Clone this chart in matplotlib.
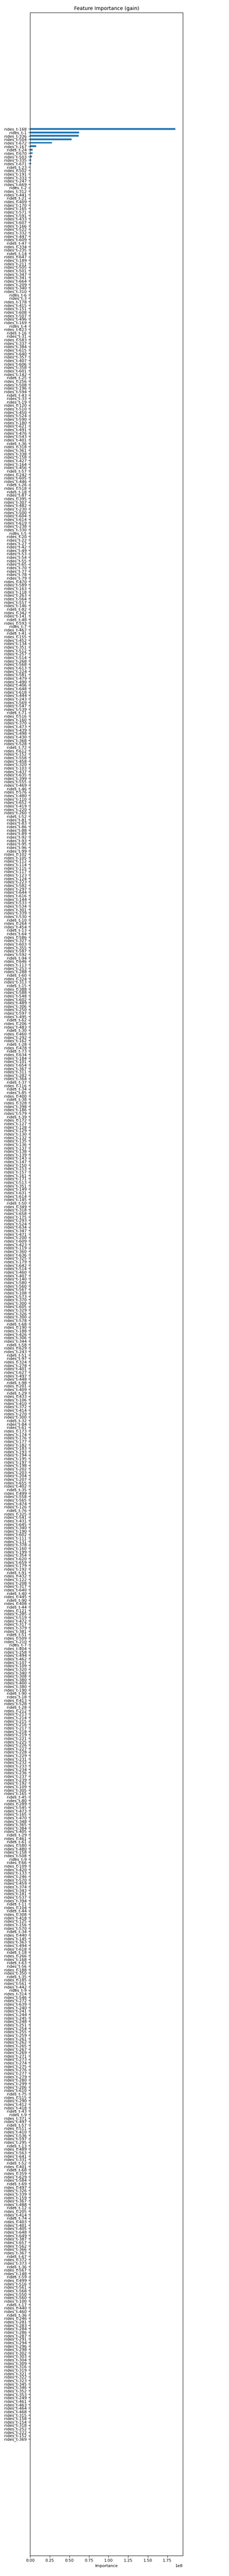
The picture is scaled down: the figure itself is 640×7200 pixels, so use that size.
import matplotlib
matplotlib.use("Agg")
import matplotlib.pyplot as plt

# lag numbers of the features, top (most important) to bottom
lags_a = [168, 1, 336, 504, 672, 167, 24, 670, 503, 335, 671, 23, 502, 191, 333,
          247, 669, 2, 312, 441, 21, 409, 170, 165, 571, 591, 433, 607, 166, 522,
          332, 447, 609, 47, 334, 235, 14, 647, 189, 211, 505, 501, 347, 341]
lags_b = [664, 209, 340, 310, 6, 3, 178, 415, 151, 608, 507, 496, 169, 4, 623, 16,
          31, 583, 337, 384, 615, 640, 357, 407, 606, 358, 601, 142, 25, 256, 508,
          196, 594, 43, 33, 19, 120, 510, 450, 524, 590, 180, 621, 491, 476, 543,
          401, 36, 318, 361, 338, 158, 427, 164, 456, 57, 242, 605, 446, 26, 518,
          18, 87, 395, 307, 482, 230, 500, 604, 614, 619, 238, 330,
          5, 20, 22, 27, 42, 49, 53, 54, 55, 65, 70, 77, 78, 79]
lags_c = [470, 589, 163, 118, 263, 564, 557, 146, 82, 342, 141, 48, 593, 7, 467,
          41, 155, 452, 134, 351, 512, 257, 514, 268, 568, 613, 224, 581, 479, 490,
          406, 648, 618, 444, 243, 569, 547, 539, 71, 516, 160, 370, 473, 439, 498,
          430, 368, 528, 72, 612, 152, 558, 458, 320, 103, 437, 635, 399, 555, 469,
          46, 576, 480, 110, 652, 419, 220, 260, 52,
          81, 83, 86, 88, 89, 92, 93, 95, 96, 99, 102, 105, 112, 114, 115, 117,
          123, 124]
lags_d = [223, 582, 297, 644, 616, 144, 533, 534, 301, 339, 530, 10, 264, 454, 13,
          64, 586, 327, 603, 355, 587, 592, 94, 646, 113, 253, 288, 60, 324, 313,
          15, 388, 588, 548, 602, 489, 306, 250, 597, 495, 62, 206, 483, 30, 460,
          292, 162, 28, 478, 73, 634, 184, 101, 654, 367, 311, 282, 364, 37, 116,
          34, 85, 400, 38, 328, 398, 186, 579, 39, 172,
          127, 128, 129, 130, 132, 135, 136, 137, 138, 139, 143, 147, 150, 153,
          157, 161, 171]
lags_e = [513, 351, 149, 631, 614, 145, 50, 349, 318, 658, 175, 293, 524, 634,
          347, 471, 200, 609, 423, 119, 360, 636, 325, 179, 642, 514, 460, 407,
          140, 580, 560, 567, 108, 573, 370, 300, 605, 329, 326, 300, 578, 68,
          190, 188, 426, 306, 344, 58, 629, 243, 51, 97, 324, 278, 401, 627, 497,
          448, 98, 201, 409, 29, 433, 106, 410, 372, 414, 270, 300, 32, 84, 61,
          173, 174, 176, 177, 182, 183, 193, 194, 195, 197, 198, 202, 203, 204, 207]
lags_f = [655, 402, 35, 499, 558, 565, 474, 126, 76, 325, 541, 431, 645, 340, 190,
          602, 111, 131, 378, 160, 199, 354, 620, 659, 179, 192, 91, 432, 122, 208,
          317, 640, 40, 445, 90, 408, 44, 121, 285, 519, 472, 317, 379, 381, 51,
          509, 210, 7, 404, 258, 494, 462, 107, 109, 320, 340, 308, 380, 400, 380,
          190, 90, 18, 413, 528, 28,
          212, 213, 214, 215, 216, 217, 218, 219, 221, 225, 226, 227, 228, 229,
          231, 232, 233, 234, 236, 237, 239]
lags_g = [192, 109, 305, 165, 45, 80, 289, 545, 473, 165, 470, 348, 365, 384, 405,
          29, 461, 61, 580, 480, 158, 508, 9, 66, 109, 420, 133, 246, 570, 459,
          374, 343, 181, 537, 394, 11, 104, 44, 308, 418, 125, 156, 570, 34, 440,
          145, 363, 494, 618, 18, 266, 168, 63, 56, 188, 350, 35, 185, 561, 442, 9,
          314, 546, 272, 639,
          240, 241, 244, 245, 248, 251, 254, 255, 259, 261, 262, 265, 267, 269,
          271, 273, 274, 275, 276, 277, 279, 280]
lags_h = [299, 206, 610, 75, 515, 290, 412, 418, 43, 9, 371, 497, 57, 511, 410,
          536, 597, 295, 13, 489, 563, 641, 331, 52, 401, 68, 359, 629, 584, 69,
          497, 326, 339, 159, 367, 488, 12, 205, 414, 74, 403, 401, 405, 648, 649,
          387, 657, 562, 366, 367, 67, 372, 373, 36, 567, 148, 59, 499, 516, 561,
          568, 550, 560, 100, 17, 440, 460, 36, 246,
          281, 283, 284, 286, 287, 291, 294, 296, 298, 302, 303, 304, 309, 316,
          319, 321, 322, 323, 345, 346, 352, 353,
          249, 461, 463, 464, 468, 315, 158, 154, 318, 252, 222, 152, 369]

lags = lags_a + lags_b + lags_c + lags_d + lags_e + lags_f + lags_g + lags_h
features = ["rides_t-%d" % n for n in lags]

# gain, in millions, top to bottom
gain_top = [185.4, 62.5, 61.9, 52.6, 27.6, 7.8, 3.2, 2.9, 2.15, 1.37, 1.1,
            0.45, 0.40, 0.36, 0.33, 0.30, 0.28, 0.26, 0.24, 0.22]
gain_rest = [0.15] * 24 + [0.08] * 100 + [0.04] * 150 + [0.02] * 150 + [0.005] * 226
gain = [g * 1e6 for g in (gain_top + gain_rest)[:len(lags)]]

fig = plt.figure(figsize=(6.4, 72), dpi=100)
ax = fig.add_axes([0.1317, 0.00796, 0.6663, 0.98718])
pos = list(range(len(lags)))
ax.barh(pos, gain, height=0.5, color="#1f77b4")
ax.set_yticks(pos)
ax.set_yticklabels(features, fontsize=8)
ax.invert_yaxis()
ax.tick_params(axis="x", labelsize=8)
ax.xaxis.get_offset_text().set_fontsize(8)
ax.set_xlabel("Importance", fontsize=8, labelpad=3)
ax.set_title("Feature Importance (gain)", fontsize=10, pad=5)
fig.savefig("out.png", dpi=100)
